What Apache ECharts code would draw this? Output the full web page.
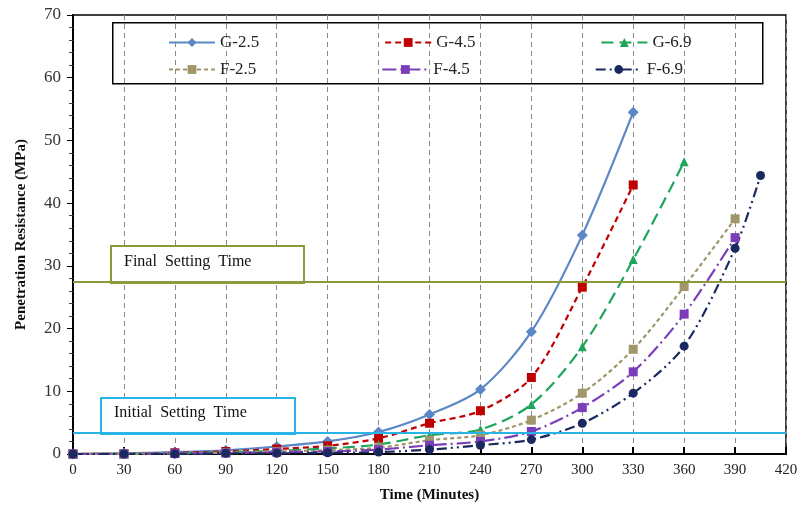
<!DOCTYPE html>
<html>
<head>
<meta charset="utf-8">
<script src="https://cdn.jsdelivr.net/npm/echarts@6/dist/echarts.min.js"></script>
<style>
html,body{margin:0;padding:0;background:#fff;}
#chart{width:803px;height:514px;}
</style>
</head>
<body>
<div id="chart"></div>
<script>
// time (minutes)
var times = [0,30,60,90,120,150,180,210,240,270,300,330,360,390,405];
// penetration resistance (MPa), null = no reading
var g25 = [0,0.1,0.3,0.6,1.2,2.0,3.5,6.3,10.3,19.5,34.9,54.5,null,null,null];
var g45 = [0,0.05,0.2,0.4,0.8,1.3,2.5,4.9,6.9,12.2,26.6,42.9,null,null,null];
var g69 = [0,0.05,0.1,0.3,0.5,0.9,1.5,3.0,3.9,7.9,17.1,31.0,46.6,null,null];
var f25 = [0,0.05,0.1,0.2,0.4,0.6,1.0,2.2,3.0,5.4,9.7,16.7,26.7,37.5,null];
var f45 = [0,0,0.1,0.15,0.3,0.4,0.7,1.4,2.0,3.6,7.4,13.1,22.3,34.5,null];
var f69 = [0,0,0,0.1,0.1,0.2,0.3,0.7,1.4,2.3,4.9,9.7,17.2,32.8,44.4];
var finalSet = 27.5;
var initialSet = 3.4;
var legendRow1 = ['G-2.5','G-4.5','G-6.9'];
var legendRow2 = ['F-2.5','F-4.5','F-6.9'];

var serif = "'Liberation Serif','DejaVu Serif',serif";

function pairs(vals){
	var out = [];
	for(var i=0;i<times.length;i++){
		if(vals[i]!==null) out.push([times[i],vals[i]]);
	}
	return out;
}

function mkSeries(name,vals,color,symbol,size,dash){
	return {
		name:name,
		type:'line',
		data:pairs(vals),
		smooth:0.3,
		symbol:symbol,
		symbolSize:size,
		itemStyle:{color:color},
		lineStyle:{color:color,width:2.2,type:dash},
		z:3
	};
}

var series = [
	mkSeries('G-2.5',g25,'#5B87C6','diamond',11,'solid'),
	mkSeries('G-4.5',g45,'#C00000','rect',9,[6,4]),
	mkSeries('G-6.9',g69,'#1FA55A','triangle',9,[12,6]),
	mkSeries('F-2.5',f25,'#A0966A','rect',9,[4,3]),
	mkSeries('F-4.5',f45,'#7A3FB8','rect',9,[14,4,2,4]),
	mkSeries('F-6.9',f69,'#1A2A60','circle',9,[10,4,2,4,2,4])
];
// setting time lines
series[0].markLine = {
	silent:true,
	symbol:'none',
	label:{show:false},
	data:[
		{yAxis:finalSet,lineStyle:{color:'#8C9A3C',width:2,type:'solid'}},
		{yAxis:initialSet,lineStyle:{color:'#29B4E8',width:2,type:'solid'}}
	]
};

function mkLegend(names,top){
	return {
		left:163,top:top,itemGap:125,itemWidth:46,itemHeight:11,
		textStyle:{fontFamily:serif,fontSize:17,color:'#222'},
		data:names
	};
}

var myChart = echarts.init(document.getElementById('chart'));
var option = {
	animation:false,
	backgroundColor:'#fff',
	grid:{left:73,right:17,top:15,bottom:60,show:true,borderColor:'#000',borderWidth:1.5},
	legend:[mkLegend(legendRow1,29),mkLegend(legendRow2,56)],
	xAxis:{
		type:'value',min:0,max:420,interval:30,
		name:'Time (Minutes)',nameLocation:'middle',nameGap:34,
		nameTextStyle:{fontFamily:serif,fontSize:15,fontWeight:'bold',color:'#111'},
		axisLine:{lineStyle:{color:'#000',width:2}},
		axisTick:{inside:true,length:7,lineStyle:{color:'#000',width:2}},
		axisLabel:{fontFamily:serif,fontSize:15,color:'#222',margin:9},
		splitLine:{show:true,lineStyle:{color:'#888',type:[5,4],width:1}}
	},
	yAxis:{
		type:'value',min:0,max:70,interval:10,
		name:'Penetration Resistance (MPa)',nameLocation:'middle',nameGap:44,
		nameTextStyle:{fontFamily:serif,fontSize:15,fontWeight:'bold',color:'#111'},
		axisLine:{lineStyle:{color:'#000',width:2}},
		axisTick:{length:6,lineStyle:{color:'#000'}},
		minorTick:{show:true,splitNumber:5,length:4,lineStyle:{color:'#444'}},
		axisLabel:{fontFamily:serif,fontSize:17,color:'#333',margin:12},
		splitLine:{show:false}
	},
	graphic:[
		{type:'rect',left:112,top:22,shape:{width:650,height:61},
			style:{fill:'#fff',stroke:'#000',lineWidth:1.5},z:-1},
		{type:'rect',left:110,top:245,shape:{width:193,height:37},
			style:{fill:'#fff',stroke:'#8C9A3C',lineWidth:2},z:1},
		{type:'text',left:124,top:254,style:{text:'Final  Setting  Time',font:'16px '+serif,fill:'#111'},z:2},
		{type:'rect',left:100,top:397,shape:{width:194,height:36},
			style:{fill:'#fff',stroke:'#29B4E8',lineWidth:2},z:1},
		{type:'text',left:114,top:405,style:{text:'Initial  Setting  Time',font:'16px '+serif,fill:'#111'},z:2}
	],
	series:series
};
myChart.setOption(option);
</script>
</body>
</html>
